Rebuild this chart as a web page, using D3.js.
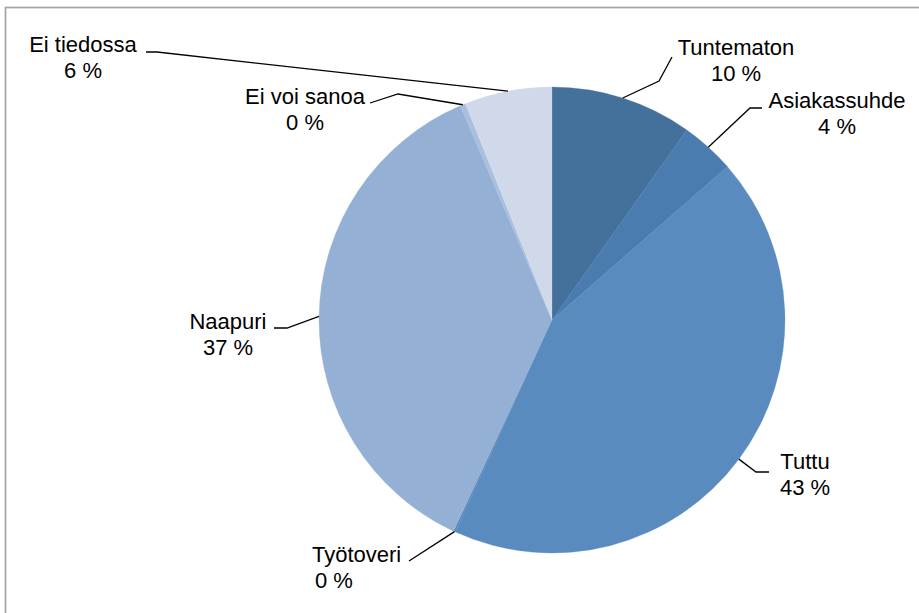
<!DOCTYPE html>
<html>
<head>
<meta charset="utf-8">
<script src="https://cdn.jsdelivr.net/npm/d3@7"></script>
<style>
  html, body { margin: 0; padding: 0; background: #fff; }
  svg { display: block; }
  text { font-family: "Liberation Sans", Arial, sans-serif; font-size: 22px; fill: #000; }
</style>
</head>
<body>
<svg id="chart" width="919" height="613"></svg>
<script>
// ---- Data ----
const categories = ["Tuntematon", "Asiakassuhde", "Tuttu", "Työtoveri", "Naapuri", "Ei voi sanoa", "Ei tiedossa"];
const values = [9.82, 3.75, 43.21, 0.15, 36.6, 0.38, 6.06];
const colors = ["#44709c", "#4a7cb0", "#5a8bbf", "#5a8bbf", "#95b0d5", "#a9bfdd", "#d0d9ea"];

// ---- Label layout (annotation placement, not data) ----
const labelLayout = [
  { x: 736, y: 55, anchor: "middle", leader: [[672, 57], [659, 81]] },
  { x: 837, y: 108, anchor: "middle", leader: [[762, 108], [750, 108]] },
  { x: 805, y: 469, anchor: "middle", leader: [[769, 472], [756, 472]] },
  { x: 312, y: 562, anchor: "start", leader: [[409, 561]] },
  { x: 228, y: 329, anchor: "middle", leader: [[274, 328], [287, 328]] },
  { x: 305, y: 104, anchor: "middle", leader: [[370, 103], [398, 94]] },
  { x: 83, y: 52, anchor: "middle", leader: [[146, 52], [157, 52]] }
];
const lineGap = 26;

const svg = d3.select("#chart");

// Chart area border
svg.append("rect")
  .attr("x", 5.5).attr("y", 7.5)
  .attr("width", 1000).attr("height", 1000)
  .attr("fill", "none")
  .attr("stroke", "#a6a6a6")
  .attr("stroke-width", 1.75);

const cx = 552, cy = 320, r = 233;
const total = d3.sum(values);

const pie = d3.pie().sort(null).value(d => d.v);
const data = categories.map((c, i) => ({ c, v: values[i], i }));
const arcs = pie(data);
const arcGen = d3.arc().innerRadius(0).outerRadius(r);

const g = svg.append("g").attr("transform", `translate(${cx},${cy})`);

g.selectAll("path.slice")
  .data(arcs)
  .enter().append("path")
  .attr("class", "slice")
  .attr("d", arcGen)
  .attr("fill", d => colors[d.data.i])
  .attr("stroke", d => colors[d.data.i])
  .attr("stroke-width", 0.3);

// Leader lines and labels
arcs.forEach(a => {
  const L = labelLayout[a.data.i];
  const mid = (a.startAngle + a.endAngle) / 2;
  const ex = cx + r * Math.sin(mid);
  const ey = cy - r * Math.cos(mid);
  const pts = L.leader.concat([[ex, ey]]);
  svg.append("path")
    .attr("d", d3.line()(pts))
    .attr("fill", "none")
    .attr("stroke", "#000")
    .attr("stroke-width", 1.3);

  const pct = Math.round(a.data.v / total * 100) + " %";
  const t = svg.append("text")
    .attr("text-anchor", L.anchor);
  t.append("tspan").attr("x", L.x).attr("y", L.y).text(a.data.c);
  t.append("tspan").attr("x", L.anchor === "start" ? L.x + 3 : L.x).attr("y", L.y + lineGap).text(pct);
});
</script>
</body>
</html>
